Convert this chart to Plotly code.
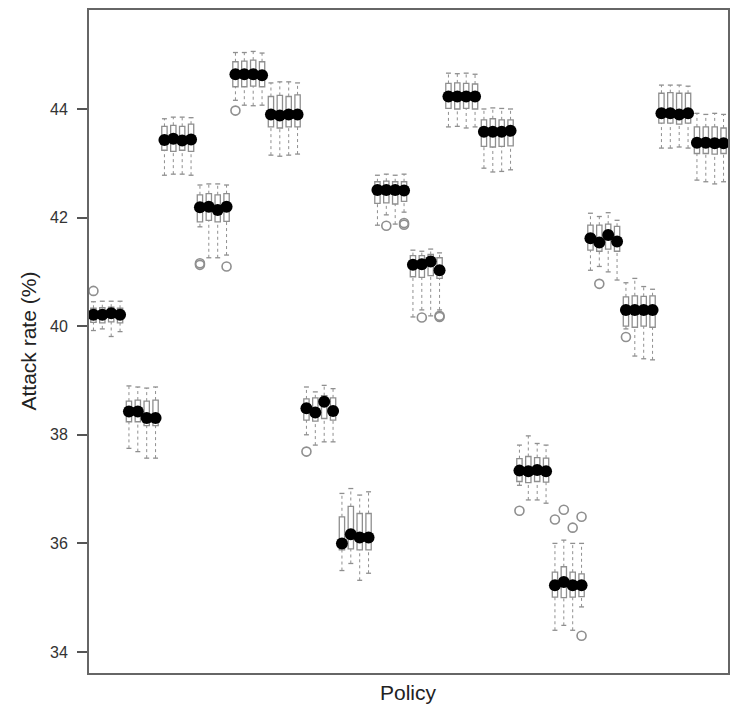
import plotly.graph_objects as go

# ---- data: 18 policies x 4 scenarios = 72 boxes (values in %) ----
medians = [
    40.21, 40.21, 40.24, 40.21,
    38.43, 38.43, 38.31, 38.31,
    43.43, 43.45, 43.42, 43.44,
    42.19, 42.20, 42.14, 42.20,
    44.64, 44.64, 44.64, 44.62,
    43.90, 43.88, 43.90, 43.90,
    38.49, 38.41, 38.61, 38.44,
    36.00, 36.17, 36.11, 36.11,
    42.51, 42.51, 42.51, 42.50,
    41.13, 41.14, 41.19, 41.03,
    44.23, 44.23, 44.23, 44.23,
    43.58, 43.58, 43.58, 43.60,
    37.34, 37.33, 37.35, 37.33,
    35.23, 35.29, 35.23, 35.23,
    41.62, 41.54, 41.68, 41.56,
    40.30, 40.30, 40.30, 40.30,
    43.92, 43.92, 43.90, 43.92,
    43.38, 43.38, 43.37, 43.37,
]
q3 = [
    40.33, 40.34, 40.35, 40.33,
    38.62, 38.64, 38.62, 38.64,
    43.68, 43.70, 43.68, 43.72,
    42.42, 42.44, 42.42, 42.44,
    44.87, 44.88, 44.90, 44.87,
    44.23, 44.25, 44.23, 44.26,
    38.66, 38.68, 38.72, 38.68,
    36.49, 36.68, 36.55, 36.55,
    42.66, 42.67, 42.66, 42.66,
    41.30, 41.30, 41.32, 41.26,
    44.47, 44.48, 44.47, 44.46,
    43.80, 43.82, 43.80, 43.80,
    37.56, 37.60, 37.58, 37.57,
    35.47, 35.57, 35.47, 35.44,
    41.86, 41.86, 41.88, 41.84,
    40.54, 40.56, 40.55, 40.56,
    44.29, 44.30, 44.29, 44.29,
    43.67, 43.67, 43.67, 43.65,
]
q1 = [
    40.07, 40.06, 40.08, 40.06,
    38.24, 38.24, 38.17, 38.17,
    43.24, 43.22, 43.24, 43.22,
    41.92, 41.95, 41.92, 41.93,
    44.41, 44.41, 44.42, 44.41,
    43.67, 43.65, 43.67, 43.67,
    38.27, 38.25, 38.30, 38.27,
    35.88, 35.90, 35.88, 35.88,
    42.26, 42.27, 42.25, 42.30,
    40.91, 40.90, 40.93, 40.88,
    44.01, 44.00, 44.01, 44.00,
    43.31, 43.30, 43.31, 43.32,
    37.14, 37.12, 37.14, 37.13,
    35.01, 35.00, 35.01, 35.02,
    41.40, 41.38, 41.42, 41.38,
    40.00, 39.98, 40.00, 39.98,
    43.74, 43.74, 43.72, 43.74,
    43.18, 43.18, 43.17, 43.18,
]
upper_whisker = [
    40.45, 40.46, 40.46, 40.46,
    38.90, 38.88, 38.86, 38.88,
    43.82, 43.85, 43.85, 43.84,
    42.60, 42.62, 42.62, 42.60,
    45.04, 45.04, 45.06, 45.03,
    44.48, 44.50, 44.50, 44.48,
    38.88, 38.79, 38.91, 38.85,
    36.92, 37.01, 36.89, 36.95,
    42.78, 42.80, 42.78, 42.80,
    41.40, 41.38, 41.42, 41.35,
    44.66, 44.65, 44.66, 44.64,
    44.00, 44.02, 44.01, 44.00,
    37.81, 37.98, 37.84, 37.81,
    36.00, 36.06, 36.00, 36.00,
    42.08, 42.02, 42.09, 41.95,
    40.80, 40.88, 40.73, 40.68,
    44.44, 44.44, 44.44, 44.42,
    43.92, 43.90, 43.92, 43.90,
]
lower_whisker = [
    39.92, 39.95, 39.81, 39.90,
    37.75, 37.69, 37.57, 37.57,
    42.78, 42.80, 42.80, 42.78,
    41.83, 41.26, 41.26, 41.31,
    44.16, 44.07, 44.06, 44.07,
    43.15, 43.13, 43.15, 43.17,
    38.00, 37.81, 37.87, 37.87,
    35.50, 35.63, 35.32, 35.45,
    41.86, 42.05, 41.88, 42.10,
    40.17, 40.30, 40.19, 40.30,
    43.67, 43.68, 43.65, 43.67,
    42.91, 42.84, 42.85, 42.88,
    37.07, 36.80, 36.80, 36.74,
    34.40, 34.49, 34.40, 34.83,
    41.03, 41.10, 41.00, 40.85,
    39.95, 39.45, 39.40, 39.38,
    43.28, 43.28, 43.30, 43.28,
    42.69, 42.66, 42.62, 42.66,
]
# outliers: box number (1..72) and value
outlier_box = [1, 13, 13, 16, 17, 25, 34, 36, 36, 38, 40, 40, 49,
               53, 54, 55, 56, 56, 58, 61]
outlier_value = [40.65, 41.16, 41.13, 41.10, 43.97, 37.69, 41.85, 41.87, 41.90,
                 40.16, 40.17, 40.19, 36.60, 36.44, 36.62, 36.29, 36.49, 34.30,
                 40.78, 39.80]
y_ticks = [34, 36, 38, 40, 42, 44]

positions = list(range(1, len(medians) + 1))
CAP = 0.28  # half-width of whisker caps (data units)

GRAY = "#8f8f8f"

# whisker lines (dashed)
wx, wy = [], []
for p, lo, a, b, hi in zip(positions, lower_whisker, q1, q3, upper_whisker):
    wx += [p, p, None, p, p, None]
    wy += [lo, a, None, b, hi, None]

# caps
cx, cy = [], []
for p, lo, hi in zip(positions, lower_whisker, upper_whisker):
    cx += [p - CAP, p + CAP, None, p - CAP, p + CAP, None]
    cy += [lo, lo, None, hi, hi, None]

fig = go.Figure()
fig.add_trace(go.Scatter(x=wx, y=wy, mode="lines",
                         line=dict(color=GRAY, width=1, dash="3px,3px"),
                         hoverinfo="skip", showlegend=False))
fig.add_trace(go.Scatter(x=cx, y=cy, mode="lines",
                         line=dict(color=GRAY, width=1.3),
                         hoverinfo="skip", showlegend=False))
fig.add_trace(go.Box(x=positions, q1=q1, median=medians, q3=q3,
                     lowerfence=q1, upperfence=q3,
                     width=0.6, fillcolor="white",
                     line=dict(color=GRAY, width=1.3),
                     boxpoints=False, showlegend=False))
fig.add_trace(go.Scatter(x=positions, y=medians, mode="markers",
                         marker=dict(color="black", size=12, symbol="circle"),
                         showlegend=False))
fig.add_trace(go.Scatter(x=outlier_box, y=outlier_value, mode="markers",
                         marker=dict(symbol="circle-open", size=9,
                                     color=GRAY, line=dict(width=1.6, color=GRAY)),
                         showlegend=False))

fig.update_layout(
    width=731, height=711,
    margin=dict(l=89, r=1, t=10, b=38),
    plot_bgcolor="white", paper_bgcolor="white",
    font=dict(family="Liberation Sans, Arial, sans-serif", color="#333"),
    showlegend=False,
    xaxis=dict(range=[0.5, 72.5], showticklabels=False, ticks="",
               showgrid=False, zeroline=False,
               showline=True, linecolor="#666", linewidth=2, mirror=True),
    yaxis=dict(range=[33.613, 45.823], tickvals=y_ticks,
               ticktext=[str(v) for v in y_ticks],
               ticks="outside", ticklen=10, tickcolor="#555", tickwidth=1.5,
               tickfont=dict(size=16, color="#333"), ticklabelstandoff=6,
               showgrid=False, zeroline=False,
               showline=True, linecolor="#666", linewidth=2, mirror=True),
    annotations=[
        dict(text="Attack rate (%)", xref="paper", yref="paper", x=0, y=0.5,
             xanchor="center", yanchor="middle", xshift=-61, textangle=-90,
             showarrow=False, font=dict(size=21, color="#222")),
        dict(text="Policy", xref="paper", yref="paper", x=0.5, y=0,
             xanchor="center", yanchor="middle", yshift=-19,
             showarrow=False, font=dict(size=21, color="#222")),
    ],
)

# remove the page's default body margin / scrollbars so the figure fills the window
fig.write_html(
    "out.html",
    config={"displayModeBar": False},
    post_script="document.documentElement.style.overflow='hidden';"
                "document.body.style.margin='0';document.body.style.overflow='hidden';",
)
